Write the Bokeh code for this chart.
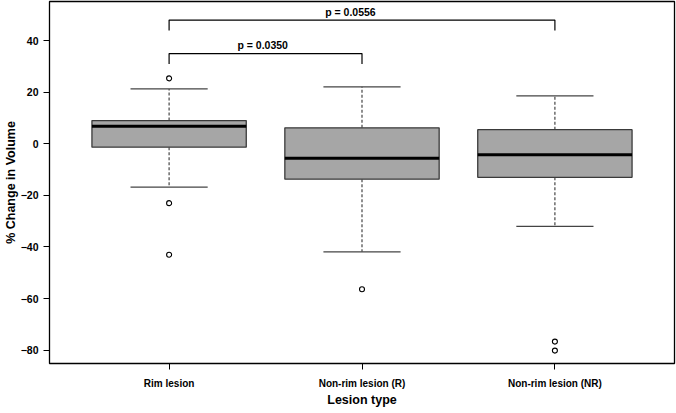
from bokeh.plotting import figure
from bokeh.models import Range1d, FixedTicker, Label
from bokeh.embed import file_html
from bokeh.resources import INLINE
from bokeh.core.properties import value

# ---------------- data ----------------
categories = ["Rim lesion", "Non-rim lesion (R)", "Non-rim lesion (NR)"]
q1 = [-1.3, -13.7, -13.0]
median = [6.8, -5.6, -4.2]
q3 = [9.0, 6.2, 5.5]
lower_whisker = [-16.8, -41.9, -32.0]
upper_whisker = [21.3, 22.1, 18.6]
outlier_group = [1, 1, 1, 2, 3, 3]
outlier_value = [25.4, -23.0, -43.0, -56.4, -76.7, -80.2]

comparisons = [(1, 2), (1, 3)]
p_values = ["p = 0.0350", "p = 0.0556"]
bracket_top = [35.0, 48.0]
bracket_leg = [31.0, 44.0]

y_ticks = [-80, -60, -40, -20, 0, 20, 40]

# ---------------- figure ----------------
FONT = "Liberation Sans"
p = figure(width=676, height=413, output_backend="svg", toolbar_location=None,
           x_range=Range1d(0.38, 3.62), y_range=Range1d(-85.2, 55.2),
           min_border_left=49, min_border_right=2, min_border_top=1, min_border_bottom=50)
p.grid.visible = False
p.outline_line_color = "black"
p.outline_line_width = 1.3
p.background_fill_color = "white"
p.border_fill_color = "white"

pos = [i + 1 for i in range(len(categories))]
half = 0.4
staple = 0.2

# whiskers (dashed)
p.segment(x0=pos, y0=q3, x1=pos, y1=upper_whisker, line_color="#444444", line_width=1.2, line_dash="3 2")
p.segment(x0=pos, y0=q1, x1=pos, y1=lower_whisker, line_color="#444444", line_width=1.2, line_dash="3 2")
# staples
p.segment(x0=[x - staple for x in pos], y0=upper_whisker, x1=[x + staple for x in pos], y1=upper_whisker,
          line_color="#444444", line_width=1.3)
p.segment(x0=[x - staple for x in pos], y0=lower_whisker, x1=[x + staple for x in pos], y1=lower_whisker,
          line_color="#444444", line_width=1.3)
# boxes
p.quad(left=[x - half for x in pos], right=[x + half for x in pos], bottom=q1, top=q3,
       fill_color="#a6a6a6", line_color="#3a3a3a", line_width=1.3)
# medians
p.segment(x0=[x - half for x in pos], y0=median, x1=[x + half for x in pos], y1=median,
          line_color="black", line_width=3)
# outliers
p.scatter(x=outlier_group, y=outlier_value, marker="circle", size=5, fill_color="white",
          line_color="black", line_width=1.1)

# brackets
for (a, b), top, leg, txt in zip(comparisons, bracket_top, bracket_leg, p_values):
    p.line(x=[a, a, b, b], y=[leg, top, top, leg], line_color="black", line_width=1.2)
    p.add_layout(Label(x=(a + b) / 2 - 0.015 * (b - a) * (b - a), y=top + 3.3, text=txt,
                       text_align="center", text_baseline="middle",
                       text_font=FONT, text_font_size="10.5px", text_font_style="bold",
                       text_color="black"))

# axes
xa = p.xaxis[0]
xa.ticker = FixedTicker(ticks=pos)
xa.major_label_overrides = {x: c for x, c in zip(pos, categories)}
xa.axis_line_color = None
xa.minor_tick_line_color = None
xa.major_tick_line_color = "black"
xa.major_tick_out = 6
xa.major_tick_in = 0
xa.major_label_standoff = 8
xa.major_label_text_font = FONT
xa.major_label_text_font_size = "10px"
xa.major_label_text_font_style = "bold"
xa.major_label_text_color = "black"
xa.axis_label = "Lesion type"
xa.axis_label_text_font = FONT
xa.axis_label_text_font_size = "12.5px"
xa.axis_label_text_font_style = "bold"
xa.axis_label_text_color = "black"
xa.axis_label_standoff = 1

ya = p.yaxis[0]
ya.ticker = FixedTicker(ticks=y_ticks)
ya.axis_line_color = None
ya.minor_tick_line_color = None
ya.major_tick_line_color = "black"
ya.major_tick_out = 6
ya.major_tick_in = 0
ya.major_label_standoff = 5
ya.major_label_orientation = "horizontal"
ya.major_label_text_font = FONT
ya.major_label_text_font_size = "10.5px"
ya.major_label_text_font_style = "bold"
ya.major_label_text_color = "black"
ya.axis_label = "% Change in Volume"
ya.axis_label_text_font = FONT
ya.axis_label_text_font_size = "12.5px"
ya.axis_label_text_font_style = "bold"
ya.axis_label_text_color = "black"
ya.axis_label_standoff = 0

open("out.html", "w").write(file_html(p, INLINE))
